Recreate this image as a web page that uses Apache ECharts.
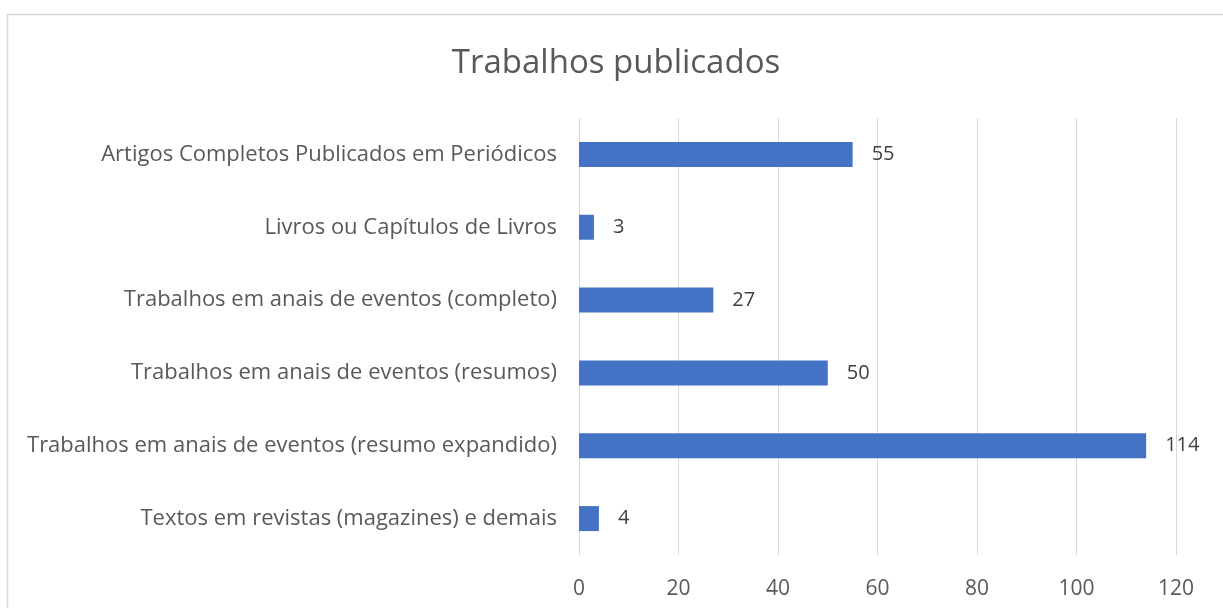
<!DOCTYPE html>
<html>
<head>
<meta charset="utf-8">
<script src="https://cdn.jsdelivr.net/npm/echarts@6/dist/echarts.min.js"></script>
<style>
  html, body { margin: 0; padding: 0; background: #fff; }
  #chart { width: 1223px; height: 608px; }
</style>
</head>
<body>
<div id="chart"></div>
<script>
// categories listed bottom -> top (category axis on y starts at the bottom)
const categories = [
    'Textos em revistas (magazines) e demais',
    'Trabalhos em anais de eventos (resumo expandido)',
    'Trabalhos em anais de eventos (resumos)',
    'Trabalhos em anais de eventos (completo)',
    'Livros ou Capítulos de Livros',
    'Artigos Completos Publicados em Periódicos'
];
const values = [4, 114, 50, 27, 3, 55];
const titleText = 'Trabalhos publicados';

const FONT = '"Open Sans", sans-serif';

const chart = echarts.init(document.getElementById('chart'));

chart.setOption({
    backgroundColor: '#fff',
    animation: false,
    title: {
        text: titleText,
        left: 611,
        top: 42,
        textAlign: 'center',
        textStyle: { fontFamily: FONT, fontSize: 33, fontWeight: 'normal', color: '#595959' }
    },
    graphic: [{
        type: 'rect',
        shape: { x: 7.5, y: 14.5, width: 1300, height: 700 },
        style: { fill: 'none', stroke: '#d9d9d9', lineWidth: 1.5 },
        silent: true
    }],
    grid: { left: 579, right: 47, top: 118, bottom: 53 },
    xAxis: {
        type: 'value',
        min: 0,
        max: 120,
        interval: 20,
        axisLine: { show: false },
        axisTick: { show: false },
        splitLine: { show: true, lineStyle: { color: '#d9d9d9', width: 1 } },
        axisLabel: { fontFamily: FONT, fontSize: 21, color: '#595959', margin: 24 }
    },
    yAxis: {
        type: 'category',
        data: categories,
        axisLine: { show: false },
        axisTick: { show: false },
        axisLabel: { fontFamily: FONT, fontSize: 22, color: '#595959', margin: 22 }
    },
    series: [{
        type: 'bar',
        data: values,
        barWidth: 25,
        itemStyle: { color: '#4472C4' },
        label: {
            show: true,
            position: 'right',
            distance: 19,
            fontFamily: FONT,
            fontSize: 20,
            color: '#404040'
        }
    }]
});
</script>
</body>
</html>
